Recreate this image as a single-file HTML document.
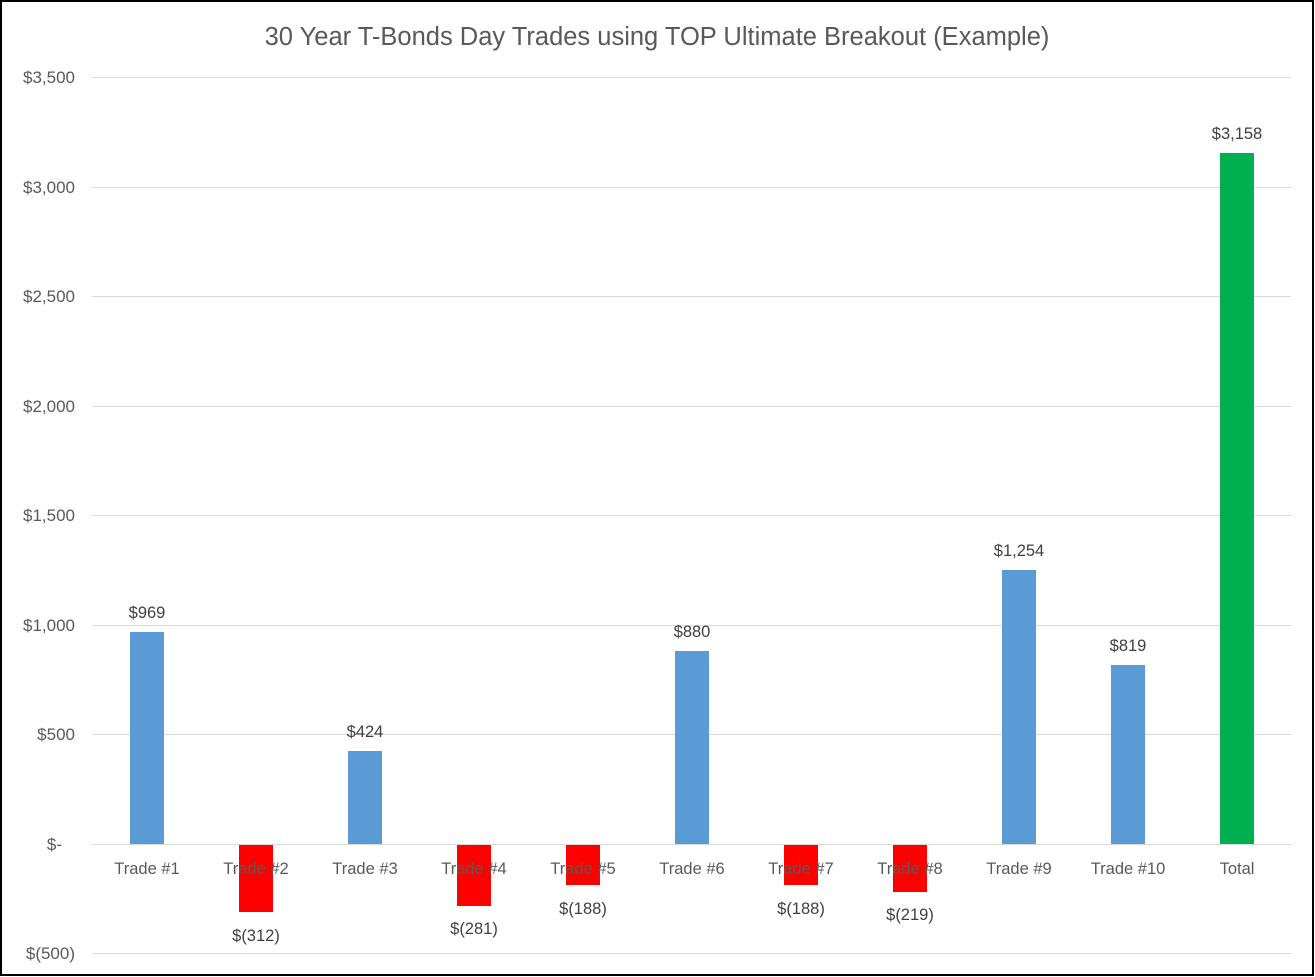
<!DOCTYPE html>
<html><head><style>
html,body{margin:0;padding:0;background:#fff;}
svg{display:block;}
text{font-family:"Liberation Sans",sans-serif;}
</style></head><body>
<svg width="1315" height="977" viewBox="0 0 1315 977" xmlns="http://www.w3.org/2000/svg">
<rect x="1" y="1" width="1312" height="974" fill="#fff" stroke="#000" stroke-width="2"/>
<text x="657" y="45" text-anchor="middle" font-size="25.5" fill="#595959">30 Year T-Bonds Day Trades using TOP Ultimate Breakout (Example)</text>
<g stroke="#d9d9d9" stroke-width="1">
<line x1="92" x2="1291" y1="77.5" y2="77.5"/>
<line x1="92" x2="1291" y1="187.5" y2="187.5"/>
<line x1="92" x2="1291" y1="296.5" y2="296.5"/>
<line x1="92" x2="1291" y1="406.5" y2="406.5"/>
<line x1="92" x2="1291" y1="515.5" y2="515.5"/>
<line x1="92" x2="1291" y1="625.5" y2="625.5"/>
<line x1="92" x2="1291" y1="734.5" y2="734.5"/>
<line x1="92" x2="1291" y1="844.5" y2="844.5"/>
<line x1="92" x2="1291" y1="953.5" y2="953.5"/>
</g>
<g font-size="17" fill="#595959" text-anchor="end">
<text x="75" y="83">$3,500</text>
<text x="75" y="193">$3,000</text>
<text x="75" y="302">$2,500</text>
<text x="75" y="412">$2,000</text>
<text x="75" y="521">$1,500</text>
<text x="75" y="631">$1,000</text>
<text x="75" y="740">$500</text>
<text x="62" y="850">$-</text>
<text x="75" y="959">$(500)</text>
</g>
<g>
<rect x="130" y="632" width="34" height="212" fill="#5b9bd5"/>
<rect x="239" y="845" width="34" height="67" fill="#ff0000"/>
<rect x="348" y="751" width="34" height="93" fill="#5b9bd5"/>
<rect x="457" y="845" width="34" height="61" fill="#ff0000"/>
<rect x="566" y="845" width="34" height="40" fill="#ff0000"/>
<rect x="675" y="651" width="34" height="193" fill="#5b9bd5"/>
<rect x="784" y="845" width="34" height="40" fill="#ff0000"/>
<rect x="893" y="845" width="34" height="47" fill="#ff0000"/>
<rect x="1002" y="570" width="34" height="274" fill="#5b9bd5"/>
<rect x="1111" y="665" width="34" height="179" fill="#5b9bd5"/>
<rect x="1220" y="153" width="34" height="691" fill="#00b050"/>
</g>
<g font-size="16.5" fill="#595959" text-anchor="middle">
<text x="147" y="874">Trade #1</text>
<text x="256" y="874">Trade #2</text>
<text x="365" y="874">Trade #3</text>
<text x="474" y="874">Trade #4</text>
<text x="583" y="874">Trade #5</text>
<text x="692" y="874">Trade #6</text>
<text x="801" y="874">Trade #7</text>
<text x="910" y="874">Trade #8</text>
<text x="1019" y="874">Trade #9</text>
<text x="1128" y="874">Trade #10</text>
<text x="1237" y="874">Total</text>
</g>
<g font-size="16.5" fill="#404040" text-anchor="middle">
<text x="147" y="618">$969</text>
<text x="256" y="941">$(312)</text>
<text x="365" y="737">$424</text>
<text x="474" y="934">$(281)</text>
<text x="583" y="914">$(188)</text>
<text x="692" y="637">$880</text>
<text x="801" y="914">$(188)</text>
<text x="910" y="920">$(219)</text>
<text x="1019" y="556">$1,254</text>
<text x="1128" y="651">$819</text>
<text x="1237" y="139">$3,158</text>
</g>
</svg>
</body></html>
